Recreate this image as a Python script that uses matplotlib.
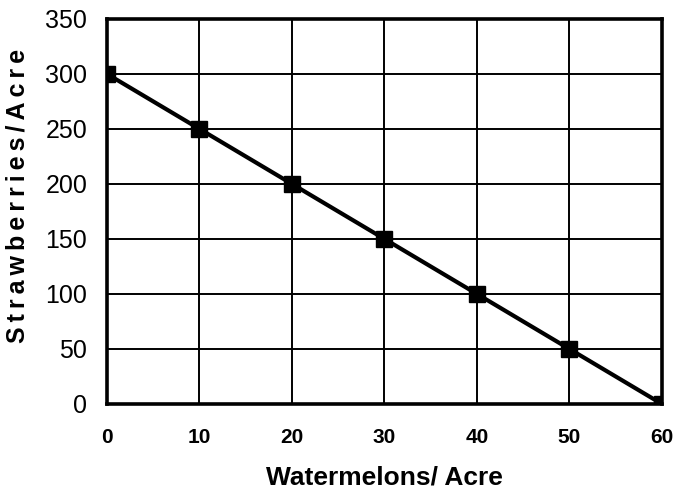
import matplotlib
matplotlib.use("Agg")
import matplotlib.pyplot as plt

plt.rcParams['font.family'] = ['Liberation Sans', 'DejaVu Sans']

# data
watermelons = [0, 10, 20, 30, 40, 50, 60]
strawberries = [300, 250, 200, 150, 100, 50, 0]
x_ticks = [0, 10, 20, 30, 40, 50, 60]
y_ticks = [0, 50, 100, 150, 200, 250, 300, 350]


def spaced(s, sp):
    # crude letter spacing
    return sp.join(s)


fig = plt.figure(figsize=(6.76, 4.95), dpi=100)
ax = fig.add_axes([0.158, 0.184, 0.821, 0.778])

ax.plot(watermelons, strawberries, color='black', lw=3,
        marker='s', markersize=11.5, zorder=3)

ax.set_xlim(0, 60)
ax.set_ylim(0, 350)
ax.set_xticks(x_ticks)
ax.set_yticks(y_ticks)
ax.grid(True, color='black', lw=1.4)
ax.set_axisbelow(True)
for s in ax.spines.values():
    s.set_linewidth(2.6)

ax.tick_params(length=0)
ax.tick_params(axis='y', labelsize=18, pad=14)
ax.tick_params(axis='x', labelsize=15, pad=17)
for lab in ax.get_xticklabels():
    lab.set_fontweight('bold')

ax.set_xlabel('Watermelons/ Acre', fontsize=19, fontweight='bold', labelpad=14)
ax.set_ylabel(spaced('Strawberries/Acre', '\u2009'),
              fontsize=18, fontweight='bold')
ax.yaxis.set_label_coords(-0.14, 0.54)

fig.savefig('out.png', dpi=100)
